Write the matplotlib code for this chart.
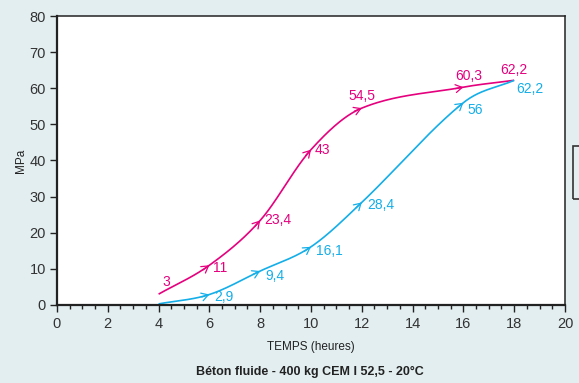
import numpy as np
import matplotlib
matplotlib.use("Agg")
import matplotlib.pyplot as plt
from matplotlib.patches import Rectangle
from matplotlib.ticker import MultipleLocator

plt.rcParams['font.family'] = ['Liberation Sans', 'DejaVu Sans']

hours = [4, 6, 8, 10, 12, 16, 18]
mag_vals = [3, 11, 23.4, 43, 54.5, 60.3, 62.2]
blue_vals = [0.3, 2.9, 9.4, 16.1, 28.4, 56, 62.2]
mag_labels = ["3", "11", "23,4", "43", "54,5", "60,3", "62,2"]
blue_labels = ["", "2,9", "9,4", "16,1", "28,4", "56", "62,2"]

MAG = '#e5007e'
BLUE = '#14aee8'


def smooth(x, y, n=40):
    # catmull-rom style cubic through the read points, only for drawing the line
    x = np.asarray(x, float)
    y = np.asarray(y, float)
    m = np.zeros_like(y)
    m[1:-1] = (y[2:] - y[:-2]) / (x[2:] - x[:-2])
    m[0] = (y[1] - y[0]) / (x[1] - x[0])
    m[-1] = (y[-1] - y[-2]) / (x[-1] - x[-2])
    xs, ys = [], []
    for k in range(len(x) - 1):
        h = x[k + 1] - x[k]
        t = np.linspace(0, 1, n)
        h00 = 2 * t**3 - 3 * t**2 + 1
        h10 = t**3 - 2 * t**2 + t
        h01 = -2 * t**3 + 3 * t**2
        h11 = t**3 - t**2
        xs.append(x[k] + t * h)
        ys.append(h00 * y[k] + h10 * h * m[k] + h01 * y[k + 1] + h11 * h * m[k + 1])
    return np.concatenate(xs), np.concatenate(ys), m


fig = plt.figure(figsize=(5.79, 3.83), dpi=100, facecolor='#e3eef0')
fig.patches.append(Rectangle((0.990, 0.48), 0.05, 0.14, transform=fig.transFigure,
                             fill=False, edgecolor='#333333', lw=1.2))
ax = fig.add_axes([0.0984, 0.2037, 0.8774, 0.7545])
ax.set_facecolor('white')

ax.set_xlim(0, 20)
ax.set_ylim(0, 80)
ax.xaxis.set_major_locator(MultipleLocator(2))
ax.xaxis.set_minor_locator(MultipleLocator(0.5))
ax.yaxis.set_major_locator(MultipleLocator(10))
ax.tick_params(axis='both', which='major', direction='out', length=5, width=1,
               labelsize=10.5, labelcolor='#333333', color='#222222')
ax.tick_params(axis='x', which='minor', direction='out', length=3, width=1, color='#222222')
ax.tick_params(axis='x', pad=4)
ax.tick_params(axis='y', pad=3)
for s in ax.spines.values():
    s.set_color('#222222')
    s.set_linewidth(1.1)
ax.spines['left'].set_linewidth(1.6)
ax.spines['bottom'].set_linewidth(1.6)

ax.set_xlabel("TEMPS (heures)", fontsize=8.5, color='#222222', labelpad=7)
ax.set_ylabel("MPa", fontsize=8.5, color='#222222', labelpad=2)

sx = 25.4
sy = 3.6125

series = [
    (mag_vals, mag_labels, MAG, [(4, 12), (4, -3), (4, 0), (4, 0), (0, 12), (5, 11), (0, 10)],
     ['left', 'left', 'left', 'left', 'center', 'center', 'center']),
    (blue_vals, blue_labels, BLUE, [(0, 0), (5, -2), (5, -5), (5, -4), (5, -3), (4, -7), (2, -9)],
     ['left', 'left', 'left', 'left', 'left', 'left', 'left']),
]

for vals, labels, col, offs, has in series:
    xs, ys, m = smooth(hours, vals)
    ax.plot(xs, ys, color=col, lw=1.2, solid_capstyle='butt')
    for i, (xv, yv) in enumerate(zip(hours, vals)):
        if 0 < i < len(hours) - 1:
            ang = np.arctan2(m[i] * sy, sx)
            back = 8
            x0 = xv - back * np.cos(ang) / sx
            y0 = yv - back * np.sin(ang) / sy
            ax.annotate('', xy=(xv, yv), xytext=(x0, y0),
                        arrowprops=dict(arrowstyle='->,head_length=0.5,head_width=0.3',
                                        color=col, lw=0.9, mutation_scale=9.5,
                                        shrinkA=0, shrinkB=0))
        if labels[i]:
            ax.annotate(labels[i], (xv, yv), xytext=offs[i], textcoords='offset pixels',
                        ha=has[i], va='center', fontsize=10, color=col)

fig.text(0.535, 0.03, "Béton fluide - 400 kg CEM I 52,5 - 20°C", ha='center', va='center',
         fontsize=9, fontweight='bold', color='#222222')

fig.savefig('out.png', dpi=100, facecolor=fig.get_facecolor())
